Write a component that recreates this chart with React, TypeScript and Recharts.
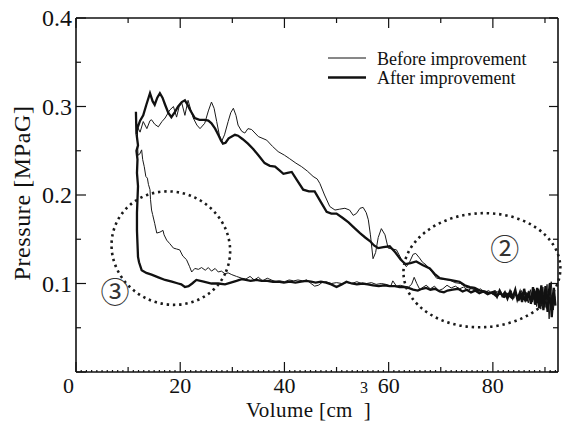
import React from 'react';
import { LineChart, Line, XAxis, YAxis, Legend, ReferenceDot } from 'recharts';

// [volume cm3, pressure MPaG]
const afterUpper: [number, number][] = [
  [11.5, 0.294], [11.6, 0.268], [11.8, 0.276], [12.3, 0.284], [12.9, 0.29], [13.5, 0.302], [14.2, 0.315],
  [14.7, 0.306], [15.1, 0.302], [15.6, 0.31], [16.1, 0.315], [16.6, 0.31], [17.1, 0.302], [17.7, 0.293],
  [18.3, 0.288], [19.0, 0.294], [19.6, 0.3], [20.3, 0.305], [20.9, 0.307], [21.4, 0.302], [21.9, 0.296],
  [22.8, 0.287], [23.7, 0.285], [24.7, 0.285], [25.4, 0.284], [26.0, 0.281], [26.7, 0.275], [27.3, 0.268],
  [27.8, 0.262], [28.2, 0.258], [28.7, 0.259], [29.3, 0.264], [29.9, 0.266], [30.5, 0.268], [31.1, 0.267],
  [32.0, 0.263], [33.0, 0.258], [34.0, 0.252], [35.0, 0.245], [36.2, 0.236], [37.2, 0.233], [38.2, 0.232],
  [39.0, 0.228], [39.8, 0.224], [40.6, 0.225], [41.4, 0.226], [42.5, 0.216], [43.6, 0.206], [44.7, 0.204],
  [45.8, 0.204], [47.0, 0.192], [48.1, 0.181], [49.0, 0.179], [50.0, 0.179], [51.2, 0.174], [52.3, 0.169],
  [53.2, 0.164], [54.5, 0.157], [55.5, 0.152], [56.4, 0.148], [57.2, 0.143], [58.0, 0.14], [59.0, 0.141],
  [60.2, 0.142], [61.3, 0.135], [62.3, 0.127], [63.2, 0.122], [64.2, 0.123], [65.3, 0.125], [66.5, 0.121],
  [67.9, 0.117], [68.8, 0.111], [69.8, 0.106], [70.8, 0.105], [71.7, 0.104], [72.7, 0.103], [73.6, 0.102],
  [74.6, 0.098], [75.6, 0.096], [76.5, 0.095], [77.5, 0.092], [78.4, 0.091], [79.4, 0.089], [80.3, 0.091],
  [80.8, 0.085], [81.3, 0.092], [81.8, 0.086], [82.3, 0.09], [82.8, 0.083], [83.3, 0.091], [83.8, 0.084],
  [84.3, 0.093], [84.7, 0.082], [85.2, 0.09], [85.6, 0.079], [86.0, 0.094], [86.5, 0.08], [86.9, 0.091],
  [87.3, 0.077], [87.7, 0.096], [88.1, 0.076], [88.5, 0.095], [88.9, 0.072], [89.3, 0.098], [89.7, 0.07],
  [90.1, 0.097], [90.5, 0.068], [90.9, 0.1], [91.3, 0.062], [91.7, 0.095], [92.0, 0.075],
];

const afterLower: [number, number][] = [
  [91.6, 0.09], [91.2, 0.07], [90.8, 0.094], [90.4, 0.072], [90.0, 0.09], [89.5, 0.075], [89.0, 0.092],
  [88.5, 0.078], [88.0, 0.09], [87.4, 0.08], [86.8, 0.089], [86.2, 0.081], [85.6, 0.088], [85.0, 0.082],
  [84.3, 0.089], [83.6, 0.084], [82.9, 0.088], [82.2, 0.085], [81.4, 0.089], [80.6, 0.086], [79.8, 0.09],
  [79.0, 0.088], [78.2, 0.091], [77.4, 0.089], [76.6, 0.092], [75.8, 0.09], [75.0, 0.093], [74.2, 0.091],
  [73.3, 0.094], [72.3, 0.093], [71.3, 0.092], [70.6, 0.09], [69.8, 0.091], [68.9, 0.094], [68.0, 0.093],
  [67.2, 0.095], [66.4, 0.094], [65.6, 0.092], [64.7, 0.093], [63.8, 0.095], [62.9, 0.096], [62.1, 0.096],
  [61.2, 0.097], [60.2, 0.097], [59.2, 0.098], [58.1, 0.097], [57.0, 0.098], [56.0, 0.099], [55.0, 0.1],
  [53.9, 0.099], [52.9, 0.1], [51.9, 0.102], [51.0, 0.099], [50.0, 0.096], [49.0, 0.099], [48.0, 0.101],
  [47.0, 0.102], [46.0, 0.101], [45.1, 0.102], [44.2, 0.103], [43.2, 0.102], [42.1, 0.101], [41.0, 0.102],
  [39.9, 0.101], [38.8, 0.102], [37.8, 0.102], [36.7, 0.103], [35.6, 0.103], [34.6, 0.104], [33.5, 0.103],
  [32.6, 0.104], [31.8, 0.105], [30.8, 0.103], [29.7, 0.101], [28.6, 0.099], [27.3, 0.1], [26.0, 0.1],
  [24.5, 0.102], [23.1, 0.104], [22.3, 0.1], [21.6, 0.097], [20.9, 0.096], [20.2, 0.099], [19.6, 0.1],
  [18.4, 0.102], [17.1, 0.104], [15.8, 0.107], [14.5, 0.11], [13.5, 0.112], [12.6, 0.115], [12.1, 0.124],
  [11.9, 0.13], [11.8, 0.145], [11.7, 0.16], [11.7, 0.18], [11.8, 0.195], [11.9, 0.21], [11.7, 0.225],
  [11.8, 0.24], [11.6, 0.25], [11.9, 0.256], [11.6, 0.27], [11.5, 0.294],
];

const beforeUpper: [number, number][] = [
  [11.8, 0.277], [12.3, 0.271], [12.9, 0.283], [13.6, 0.275], [14.2, 0.284], [14.5, 0.285], [15.1, 0.28],
  [15.8, 0.277], [16.5, 0.283], [17.1, 0.287], [18.0, 0.296], [18.7, 0.3], [19.3, 0.288], [19.8, 0.3],
  [20.3, 0.304], [20.9, 0.29], [21.5, 0.307], [22.0, 0.297], [22.5, 0.287], [23.2, 0.279], [23.8, 0.275],
  [24.7, 0.281], [25.4, 0.295], [26.0, 0.305], [26.5, 0.298], [27.0, 0.283], [27.5, 0.268], [27.9, 0.26],
  [28.5, 0.268], [29.2, 0.283], [29.7, 0.293], [30.2, 0.298], [30.7, 0.29], [31.1, 0.279], [31.8, 0.272],
  [32.4, 0.27], [33.0, 0.275], [33.7, 0.274], [35.0, 0.266], [36.6, 0.262], [37.7, 0.255], [38.8, 0.249],
  [40.0, 0.245], [41.0, 0.241], [42.2, 0.236], [43.3, 0.232], [44.4, 0.227], [45.5, 0.221], [46.3, 0.218],
  [46.8, 0.213], [47.7, 0.2], [48.7, 0.187], [49.7, 0.183], [50.6, 0.184], [51.6, 0.185], [52.5, 0.183],
  [53.2, 0.177], [53.8, 0.179], [54.5, 0.185], [55.1, 0.186], [55.7, 0.18], [56.1, 0.172], [56.5, 0.155],
  [57.0, 0.128], [57.5, 0.135], [58.0, 0.152], [58.6, 0.162], [59.3, 0.155], [59.9, 0.14], [60.7, 0.139],
  [61.5, 0.138], [62.4, 0.128], [63.4, 0.119], [64.0, 0.124], [64.7, 0.133], [65.2, 0.134], [65.9, 0.129],
  [66.5, 0.124], [67.2, 0.121], [68.2, 0.114], [69.2, 0.106], [70.4, 0.105], [71.7, 0.104], [72.7, 0.101],
  [73.8, 0.1], [74.8, 0.096], [75.9, 0.094], [76.9, 0.093], [78.0, 0.091], [79.1, 0.09], [80.0, 0.088],
  [80.5, 0.092], [81.0, 0.086], [81.5, 0.091], [82.0, 0.084], [82.5, 0.09], [83.0, 0.086], [83.5, 0.092],
  [84.0, 0.083], [84.5, 0.089], [85.0, 0.081], [85.5, 0.092], [86.0, 0.082], [86.4, 0.09], [86.8, 0.078],
  [87.2, 0.093], [87.6, 0.079], [88.0, 0.092], [88.4, 0.074], [88.8, 0.094], [89.2, 0.071], [89.6, 0.096],
  [90.0, 0.073], [90.4, 0.099], [90.8, 0.06], [91.2, 0.102], [91.6, 0.07], [91.9, 0.085],
];

const beforeLower: [number, number][] = [
  [91.5, 0.076], [91.0, 0.093], [90.6, 0.075], [90.2, 0.092], [89.7, 0.077], [89.2, 0.09], [88.6, 0.079],
  [88.0, 0.089], [87.4, 0.081], [86.8, 0.088], [86.2, 0.082], [85.5, 0.089], [84.8, 0.084], [84.0, 0.088],
  [83.2, 0.085], [82.4, 0.09], [81.6, 0.087], [80.8, 0.091], [80.0, 0.088], [79.2, 0.092], [78.4, 0.09],
  [77.6, 0.094], [76.8, 0.091], [76.0, 0.095], [75.2, 0.092], [74.4, 0.096], [73.6, 0.094], [72.8, 0.097],
  [72.0, 0.095], [71.2, 0.098], [70.4, 0.094], [69.6, 0.092], [68.8, 0.097], [68.0, 0.094], [67.2, 0.098],
  [66.4, 0.095], [66.0, 0.093], [65.4, 0.1], [64.9, 0.107], [64.4, 0.099], [63.8, 0.096], [63.0, 0.097],
  [62.2, 0.098], [61.5, 0.097], [60.8, 0.103], [60.4, 0.097], [59.5, 0.099], [58.6, 0.1], [57.6, 0.099],
  [56.7, 0.101], [55.8, 0.1], [54.8, 0.1], [53.9, 0.102], [52.9, 0.1], [52.0, 0.101], [51.0, 0.1],
  [50.0, 0.101], [49.0, 0.1], [48.0, 0.102], [47.2, 0.101], [46.5, 0.098], [45.8, 0.097], [45.1, 0.1],
  [44.3, 0.104], [43.5, 0.103], [42.6, 0.104], [41.8, 0.103], [40.9, 0.104], [40.0, 0.102], [39.1, 0.103],
  [38.3, 0.102], [37.5, 0.104], [36.7, 0.106], [35.8, 0.103], [35.0, 0.107], [34.2, 0.104], [33.4, 0.108],
  [32.6, 0.105], [31.8, 0.106], [30.8, 0.108], [29.9, 0.11], [29.2, 0.112], [28.6, 0.111], [27.9, 0.114],
  [27.3, 0.113], [26.7, 0.117], [26.0, 0.114], [25.4, 0.118], [24.8, 0.115], [24.1, 0.118], [23.5, 0.116],
  [22.8, 0.117], [22.2, 0.113], [21.8, 0.119], [21.2, 0.127], [20.5, 0.131], [19.9, 0.138], [19.3, 0.139],
  [18.7, 0.14], [18.0, 0.145], [17.4, 0.149], [16.9, 0.155], [16.7, 0.16], [16.1, 0.158], [15.5, 0.157],
  [15.1, 0.168], [14.7, 0.178], [14.5, 0.183], [14.3, 0.195], [14.2, 0.206], [13.9, 0.212], [13.7, 0.219],
  [13.4, 0.221], [13.1, 0.232], [12.8, 0.24], [12.6, 0.251], [12.2, 0.246], [11.9, 0.245], [11.8, 0.26],
  [11.8, 0.277],
];

const seriesNames = ['Before improvement', 'After improvement'];

const xTicks = Array.from({ length: 93 }, (_, i) => i);
const xTopTicks = [0, 10, 20, 30, 40, 50, 60, 70, 80, 90];
const yTicks = [0, 0.05, 0.1, 0.15, 0.2, 0.25, 0.3, 0.35, 0.4];

// annotation centres [volume, pressure]
const zone3: [number, number] = [18.2, 0.14];
const zone2: [number, number] = [77.9, 0.115];
const mark3: [number, number] = [7.5, 0.093];
const mark2: [number, number] = [82.3, 0.141];

const toRows = (pts: [number, number][]) => pts.map(([v, p]) => ({ v, p }));
const beforeData = toRows([...beforeUpper, ...beforeLower]);
const afterData = toRows([...afterUpper, ...afterLower]);

const INK = '#111';
const SERIF = 'Liberation Serif, Times New Roman, serif';
const serifStyle = { fontFamily: SERIF };

const BottomTick = (props: any) => {
  const { x, y, payload } = props;
  const v = payload.value;
  const len = v % 20 === 0 ? 10 : v % 10 === 0 ? 5 : 2;
  return (
    <g>
      <line x1={x} x2={x} y1={y} y2={y - len} stroke={INK} strokeWidth={1.2} />
      {v % 20 === 0 && (
        <text x={v === 0 ? x - 2 : x} y={y + 21} textAnchor={v === 0 ? 'end' : 'middle'}
          style={serifStyle} fontSize={22} fill={INK}>{v}</text>
      )}
    </g>
  );
};

const TopTick = (props: any) => {
  const { x, y, payload } = props;
  const len = payload.value % 20 === 0 ? 10 : 5;
  return <line x1={x} x2={x} y1={y} y2={y + len} stroke={INK} strokeWidth={1.2} />;
};

const LeftTick = (props: any) => {
  const { x, y, payload } = props;
  const major = Math.round(payload.value * 100) % 10 === 0;
  return (
    <g>
      <line x1={x} x2={x + (major ? 10 : 5)} y1={y} y2={y} stroke={INK} strokeWidth={1.2} />
      {major && payload.value > 0 && (
        <text x={x - 4} y={y} dy="0.35em" textAnchor="end" style={serifStyle} fontSize={24} fill={INK}>
          {payload.value.toFixed(1)}
        </text>
      )}
    </g>
  );
};

const RightTick = (props: any) => {
  const { x, y, payload } = props;
  const major = Math.round(payload.value * 100) % 10 === 0;
  return <line x1={x} x2={x - (major ? 9 : 5)} y1={y} y2={y} stroke={INK} strokeWidth={1.2} />;
};

const YTitle = ({ viewBox }: any) => {
  const cx = viewBox.x + 6;
  const cy = viewBox.y + viewBox.height / 2 - 2;
  return (
    <text x={cx} y={cy} transform={`rotate(-90 ${cx} ${cy})`} textAnchor="middle" dominantBaseline="central"
      style={serifStyle} fontSize={24} letterSpacing={0.6} fill={INK}>
      Pressure [MPaG]
    </text>
  );
};

const XTitle = ({ viewBox }: any) => (
  <g>
    <text x={viewBox.x + 170} y={viewBox.y + 44.5} style={serifStyle} fontSize={21} letterSpacing={0.4} fill={INK}>
      Volume [cm<tspan dx={11}>]</tspan>
    </text>
    <text x={viewBox.x + 284} y={viewBox.y + 21} style={serifStyle} fontSize={16} fill={INK}>3</text>
  </g>
);

const LegendBox = () => (
  <svg width={220} height={40}>
    <line x1={0} x2={38} y1={8} y2={8} stroke={INK} strokeWidth={1} />
    <text x={49} y={15} style={serifStyle} fontSize={18} fill={INK}>{seriesNames[0]}</text>
    <line x1={0} x2={38} y1={27.5} y2={27.5} stroke={INK} strokeWidth={2.4} />
    <text x={49} y={34} style={serifStyle} fontSize={18} fill={INK}>{seriesNames[1]}</text>
  </svg>
);

const dotted = { fill: 'none', stroke: '#1a1a1a', strokeWidth: 2.6, strokeDasharray: '2.4 3.8' };

const Zone = (rx: number, ry: number, rot: number) => (p: any) => (
  <ellipse cx={p.cx} cy={p.cy} rx={rx} ry={ry} transform={`rotate(${rot} ${p.cx} ${p.cy})`} {...dotted} />
);

const Mark = (label: string) => (p: any) => (
  <text x={p.cx} y={p.cy} textAnchor="middle" dominantBaseline="central"
    style={{ fontFamily: 'Noto Sans CJK JP, DejaVu Sans, sans-serif' }} fontSize={29} fill="#333">{label}</text>
);

export default function App() {
  return (
    <div style={{ position: 'absolute', left: 0, top: 0, background: '#fff' }}>
      <LineChart width={563} height={421} margin={{ top: 17, right: 4, bottom: 9, left: 16 }}>
        <XAxis xAxisId="b" dataKey="v" type="number" domain={[0, 92.5]} allowDataOverflow ticks={xTicks}
          interval={0} tickSize={0} tickMargin={0} tickLine={false} tick={<BottomTick />} height={40}
          axisLine={{ stroke: INK, strokeWidth: 1.6 }} label={<XTitle />} />
        <XAxis xAxisId="t" orientation="top" dataKey="v" type="number" domain={[0, 92.5]} allowDataOverflow
          ticks={xTopTicks} interval={0} tickSize={0} tickMargin={0} tickLine={false} tick={<TopTick />} height={1}
          axisLine={{ stroke: INK, strokeWidth: 1.6 }} />
        <YAxis yAxisId="l" type="number" domain={[0, 0.4]} allowDataOverflow ticks={yTicks} interval={0}
          tickSize={0} tickMargin={0} tickLine={false} tick={<LeftTick />} width={60}
          axisLine={{ stroke: INK, strokeWidth: 1.6 }} label={<YTitle />} />
        <YAxis yAxisId="r" orientation="right" type="number" domain={[0, 0.4]} allowDataOverflow ticks={yTicks}
          interval={0} tickSize={0} tickMargin={0} tickLine={false} tick={<RightTick />} width={1}
          axisLine={{ stroke: INK, strokeWidth: 1.6 }} />
        <Legend layout="vertical" align="center" verticalAlign="middle" content={<LegendBox />}
          wrapperStyle={{ left: 328, top: 50, width: 220 }} />
        <ReferenceDot xAxisId="b" yAxisId="l" x={zone3[0]} y={zone3[1]} r={1} shape={Zone(60, 56, 25)} />
        <ReferenceDot xAxisId="b" yAxisId="l" x={zone2[0]} y={zone2[1]} r={1} shape={Zone(78.5, 57, -3)} />
        <ReferenceDot xAxisId="b" yAxisId="l" x={mark3[0]} y={mark3[1]} r={1} shape={Mark('③')} />
        <ReferenceDot xAxisId="b" yAxisId="l" x={mark2[0]} y={mark2[1]} r={1} shape={Mark('②')} />
        <Line xAxisId="b" yAxisId="l" data={beforeData} dataKey="p" name={seriesNames[0]} type="linear"
          stroke="#1a1a1a" strokeWidth={1} dot={false} activeDot={false} isAnimationActive={false} />
        <Line xAxisId="b" yAxisId="l" data={afterData} dataKey="p" name={seriesNames[1]} type="linear"
          stroke={INK} strokeWidth={2.3} dot={false} activeDot={false} isAnimationActive={false} />
      </LineChart>
    </div>
  );
}
